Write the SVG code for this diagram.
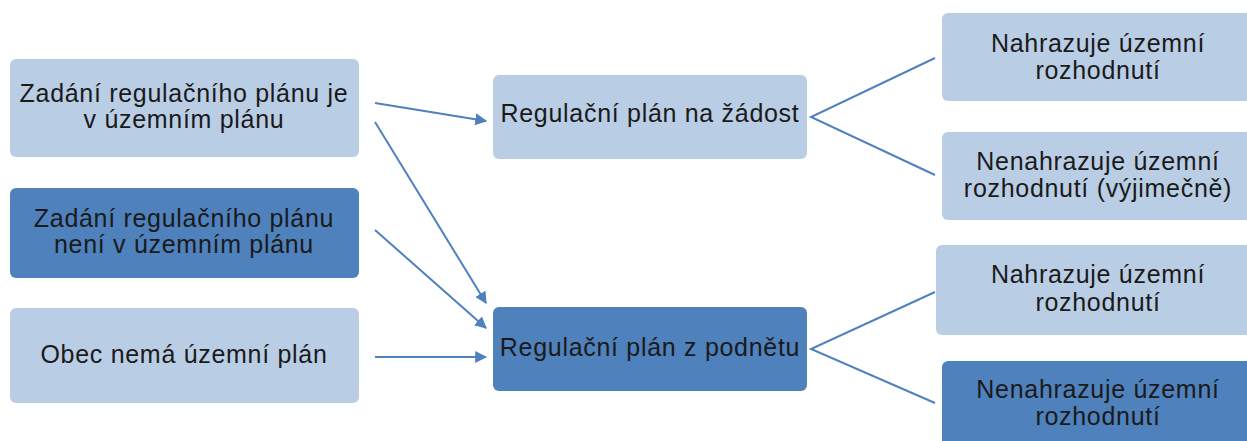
<svg xmlns="http://www.w3.org/2000/svg" width="1247" height="441" viewBox="0 0 1247 441">
<style>
.l{fill:#B9CDE5}
.d{fill:#4F81BD}
text{font-family:"Liberation Sans",Arial,sans-serif;font-size:25px;letter-spacing:0.7px;fill:#1a1a1a;text-anchor:middle}
.c{stroke:#4F81BD;stroke-width:2;fill:none}
</style>
<defs>
<marker id="a" viewBox="0 0 10 10" refX="9" refY="5" markerWidth="6" markerHeight="6" orient="auto" markerUnits="strokeWidth">
<path d="M0,0 L10,5 L0,10 z" fill="#4F81BD"/>
</marker>
</defs>
<g id="n1"><rect class="l" x="10" y="59" width="349" height="98" rx="6"/><text x="184" y="102">Zadání regulačního plánu je</text><text x="184" y="128">v územním plánu</text></g>
<g id="n2"><rect class="d" x="10" y="188" width="349" height="90" rx="6"/><text x="184" y="227">Zadání regulačního plánu</text><text x="184" y="253">není v územním plánu</text></g>
<g id="n3"><rect class="l" x="10" y="308" width="349" height="95" rx="6"/><text x="184" y="363">Obec nemá územní plán</text></g>
<g id="m1"><rect class="l" x="493" y="75" width="314" height="84" rx="6"/><text x="650" y="122">Regulační plán na žádost</text></g>
<g id="m2"><rect class="d" x="493" y="307" width="314" height="84" rx="6"/><text x="650" y="356">Regulační plán z podnětu</text></g>
<g id="r1"><rect class="l" x="942" y="13" width="310" height="88" rx="6"/><text x="1098" y="52">Nahrazuje územní</text><text x="1098" y="79">rozhodnutí</text></g>
<g id="r2"><rect class="l" x="942" y="132" width="310" height="88" rx="6"/><text x="1098" y="170">Nenahrazuje územní</text><text x="1098" y="197">rozhodnutí (výjimečně)</text></g>
<g id="r3"><rect class="l" x="936" y="245" width="316" height="90" rx="6"/><text x="1098" y="283">Nahrazuje územní</text><text x="1098" y="311">rozhodnutí</text></g>
<g id="r4"><rect class="d" x="942" y="361" width="310" height="90" rx="6"/><text x="1098" y="398">Nenahrazuje územní</text><text x="1098" y="425">rozhodnutí</text></g>
<g id="connectors">
<line class="c" x1="375" y1="103" x2="486" y2="121" marker-end="url(#a)"/>
<line class="c" x1="375" y1="122" x2="486" y2="303" marker-end="url(#a)"/>
<line class="c" x1="375" y1="230" x2="486" y2="328" marker-end="url(#a)"/>
<line class="c" x1="375" y1="357" x2="486" y2="357" marker-end="url(#a)"/>
<polyline class="c" points="935,58 811,117 935,175"/>
<polyline class="c" points="935,292 811,349 935,403"/>
</g>
</svg>
